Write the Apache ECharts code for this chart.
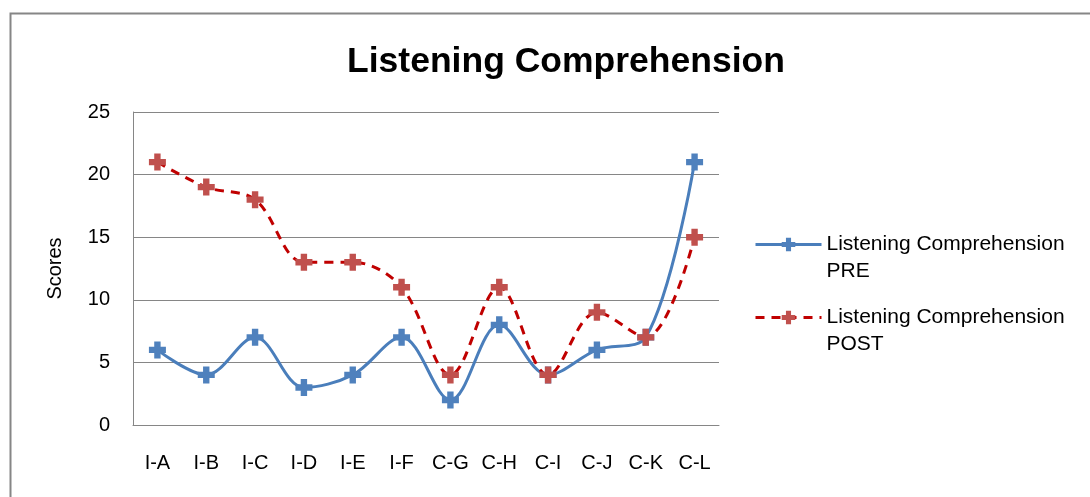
<!DOCTYPE html>
<html><head><meta charset="utf-8">
<script src="https://cdn.jsdelivr.net/npm/echarts@6/dist/echarts.min.js"></script>
<style>html,body{margin:0;padding:0;background:#fff}#c{width:1090px;height:497px}</style>
</head><body><div id="c"></div>
<script>
const categories = ['I-A','I-B','I-C','I-D','I-E','I-F','C-G','C-H','C-I','C-J','C-K','C-L'];
const preValues = [6,4,7,3,4,7,2,8,4,6,7,21];
const postValues = [21,19,18,13,13,11,4,11,4,9,7,15];
const seriesNames = ['Listening Comprehension PRE','Listening Comprehension POST'];
const yTicks = {min:0, max:25, interval:5};

const plus = 'path://M5,0H11V5H16V11H11V16H5V11H0V5H5Z';
const font = '"Liberation Sans", Arial, sans-serif';
const legendBase = {orient:'vertical',left:749,itemWidth:66,itemHeight:17,
    lineStyle:{width:3},
    formatter:n=>{const i=n.lastIndexOf(' ');return '\n'+n.slice(0,i)+'\n'+n.slice(i+1);},
    textStyle:{fontFamily:font,fontSize:21,color:'#000',lineHeight:27}};
const chart = echarts.init(document.getElementById('c'));
chart.setOption({
  animation:false,
  backgroundColor:'#fff',
  graphic:[{type:'rect',left:8,top:11,shape:{x:0,y:0,width:1200,height:600},style:{fill:'none',stroke:'#868686',lineWidth:2},silent:true}],
  title:{text:'Listening Comprehension',left:561,top:39,textAlign:'center',
    textStyle:{fontFamily:font,fontWeight:'bold',fontSize:35.5,color:'#000'}},
  grid:{left:133,right:371,top:112,bottom:72},
  legend:[
    Object.assign({}, legendBase, {data:[seriesNames[0]], top:199}),
    Object.assign({}, legendBase, {data:[seriesNames[1]], top:272})
  ],
  xAxis:{type:'category',data:categories,boundaryGap:true,
    axisLine:{lineStyle:{color:'#868686',width:1}},axisTick:{show:false},
    axisLabel:{fontFamily:font,fontSize:20,color:'#000',margin:28}},
  yAxis:{type:'value',min:yTicks.min,max:yTicks.max,interval:yTicks.interval,
    name:'Scores',nameLocation:'middle',nameGap:68,nameRotate:90,
    nameTextStyle:{fontFamily:font,fontSize:20,color:'#000'},
    axisLine:{show:true,lineStyle:{color:'#868686',width:1}},axisTick:{show:false},
    axisLabel:{fontFamily:font,fontSize:20,color:'#000',margin:23},
    splitLine:{lineStyle:{color:'#868686',width:1}}},
  series:[
    {name:seriesNames[0],type:'line',data:preValues,smooth:0.35,symbol:plus,symbolSize:17,
      lineStyle:{color:'#4A7EBB',width:3},itemStyle:{color:'#4F81BD'}},
    {name:seriesNames[1],type:'line',data:postValues,smooth:0.35,symbol:plus,symbolSize:17,
      lineStyle:{color:'#C00000',width:3,type:[9,7]},itemStyle:{color:'#C0504D'}}
  ]
});
</script></body></html>
